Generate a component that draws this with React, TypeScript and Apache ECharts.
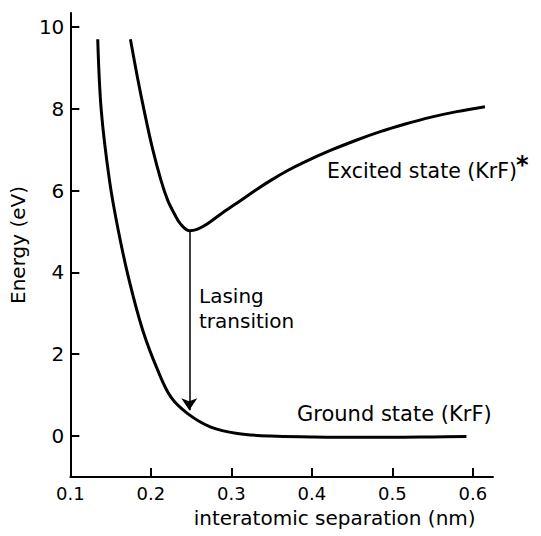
import React, { useEffect, useRef } from "react";
import * as echarts from "echarts";

const xTicks = [0.1, 0.2, 0.3, 0.4, 0.5, 0.6];
const yTicks = [0, 2, 4, 6, 8, 10];

const groundState: [number, number][] = [
  [0.134, 9.7], [0.1384, 7.96], [0.1486, 6.25], [0.1595, 5.03], [0.173, 3.81],
  [0.19, 2.58], [0.2085, 1.61], [0.225, 0.95], [0.2457, 0.55], [0.2745, 0.22],
  [0.3075, 0.065], [0.349, 0.0], [0.4, -0.02], [0.45, -0.03], [0.5, -0.03],
  [0.55, -0.02], [0.592, -0.01],
];

const excitedState: [number, number][] = [
  [0.1746, 9.7], [0.183, 8.8], [0.1916, 7.96], [0.202, 7.03], [0.2126, 6.25],
  [0.221, 5.76], [0.229, 5.44], [0.237, 5.18], [0.2477, 5.02], [0.258, 5.06],
  [0.2704, 5.19], [0.29, 5.47], [0.3116, 5.76], [0.33, 6.01], [0.349, 6.25],
  [0.37, 6.49], [0.39, 6.69], [0.423, 6.98], [0.455, 7.23], [0.485, 7.44],
  [0.515, 7.62], [0.547, 7.79], [0.58, 7.93], [0.615, 8.05],
];

const transitionX = 0.2477;
const transitionFrom = 5.0;
const transitionTo = 0.63;

const FONT = "'DejaVu Sans', 'Liberation Sans', sans-serif";

export default function App() {
  const ref = useRef<HTMLDivElement>(null);
  useEffect(() => {
    if (!ref.current) return;
    const chart = echarts.init(ref.current, undefined, { renderer: "svg" });
    const axisCommon = {
      axisLine: { onZero: false, lineStyle: { color: "#000", width: 2 } },
      axisTick: { inside: true, length: 9, lineStyle: { color: "#000", width: 2 } },
      splitLine: { show: false },
    };
    chart.setOption({
      animation: false,
      backgroundColor: "#fff",
      grid: { left: 69, right: 48, top: 13, bottom: 59 },
      xAxis: {
        type: "value",
        min: 0.1,
        max: 0.625,
        ...axisCommon,
        axisTick: { ...axisCommon.axisTick, customValues: xTicks },
        axisLabel: {
          customValues: xTicks,
          formatter: (v: number) => v.toFixed(1),
          color: "#000",
          fontFamily: FONT,
          fontSize: 18,
          margin: 7,
        },
        name: "interatomic separation (nm)",
        nameLocation: "middle",
        nameGap: 31,
        nameTextStyle: {
          color: "#000",
          fontFamily: FONT,
          fontSize: 20,
          padding: [0, 0, 0, 106],
        },
      },
      yAxis: {
        type: "value",
        min: -1,
        max: 10.34,
        ...axisCommon,
        axisTick: { ...axisCommon.axisTick, customValues: yTicks },
        axisLabel: {
          customValues: yTicks,
          color: "#000",
          fontFamily: FONT,
          fontSize: 20,
          margin: 6,
        },
        name: "Energy (eV)",
        nameLocation: "middle",
        nameGap: 27,
        nameTextStyle: { color: "#000", fontFamily: FONT, fontSize: 20 },
      },
      series: [
        {
          name: "Ground state (KrF)",
          type: "line",
          data: groundState,
          smooth: 0.35,
          showSymbol: false,
          lineStyle: { color: "#000", width: 3 },
          markLine: {
            silent: true,
            symbol: ["none", "arrow"],
            symbolSize: 12,
            label: { show: false },
            lineStyle: { color: "#000", width: 1.5, type: "solid" },
            data: [
              [
                { coord: [transitionX, transitionFrom] },
                { coord: [transitionX, transitionTo] },
              ],
            ],
          },
        },
        {
          name: "Excited state (KrF)*",
          type: "line",
          data: excitedState,
          smooth: 0.35,
          showSymbol: false,
          lineStyle: { color: "#000", width: 3 },
        },
      ],
      graphic: [
        {
          type: "text",
          x: 327,
          y: 171,
          style: {
            text: "Excited state (KrF)",
            font: `20.5px ${FONT}`,
            fill: "#000",
            textAlign: "left",
            textVerticalAlign: "middle",
          },
        },
        {
          type: "text",
          x: 516,
          y: 165,
          style: {
            text: "*",
            font: `bold 24px ${FONT}`,
            fill: "#000",
            textAlign: "left",
            textVerticalAlign: "middle",
          },
        },
        {
          type: "text",
          x: 199,
          y: 296,
          style: {
            text: "Lasing",
            font: `20px ${FONT}`,
            fill: "#000",
            textAlign: "left",
            textVerticalAlign: "middle",
          },
        },
        {
          type: "text",
          x: 199,
          y: 321,
          style: {
            text: "transition",
            font: `20px ${FONT}`,
            fill: "#000",
            textAlign: "left",
            textVerticalAlign: "middle",
          },
        },
        {
          type: "text",
          x: 297,
          y: 414,
          style: {
            text: "Ground state (KrF)",
            font: `21px ${FONT}`,
            fill: "#000",
            textAlign: "left",
            textVerticalAlign: "middle",
          },
        },
      ],
    });
    return () => chart.dispose();
  }, []);
  return <div ref={ref} style={{ width: 541, height: 536, position: "absolute", left: 0, top: 0 }} />;
}
